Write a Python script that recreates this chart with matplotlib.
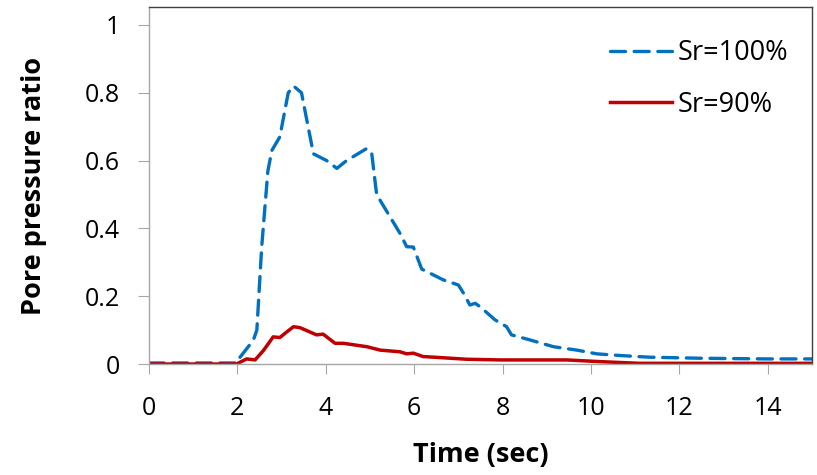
import matplotlib
matplotlib.use("Agg")
import matplotlib.pyplot as plt

# Sr=100% (blue dashed)
t_100 = [0.0, 1.0, 2.0, 2.06, 2.36, 2.44, 2.55, 2.69, 2.78, 2.96, 3.15, 3.27, 3.45,
         3.72, 4.02, 4.25, 4.47, 4.93, 5.04, 5.15, 5.38, 5.68, 5.83, 5.98, 6.17,
         6.66, 7.0, 7.11, 7.26, 7.38, 7.49, 7.83, 8.09, 8.2, 8.62, 9.15, 9.68,
         10.13, 10.66, 11.33, 12.47, 13.97, 15.0]
pp_100 = [0.003, 0.003, 0.003, 0.02, 0.07, 0.10, 0.346, 0.57, 0.63, 0.67, 0.80, 0.82, 0.80,
          0.62, 0.60, 0.577, 0.60, 0.636, 0.62, 0.50, 0.45, 0.385, 0.346, 0.345, 0.28,
          0.248, 0.233, 0.21, 0.174, 0.179, 0.169, 0.13, 0.11, 0.086, 0.071, 0.051, 0.041,
          0.03, 0.025, 0.02, 0.017, 0.015, 0.015]

# Sr=90% (red solid)
t_90 = [0.0, 1.98, 2.21, 2.4, 2.59, 2.81, 2.96, 3.12, 3.27, 3.42, 3.79, 3.94, 4.21,
        4.4, 4.93, 5.23, 5.68, 5.83, 5.98, 6.2, 6.58, 7.19, 7.94, 9.45, 10.2, 11.1,
        13.2, 15.0]
pp_90 = [0.0, 0.0, 0.015, 0.012, 0.04, 0.08, 0.078, 0.095, 0.11, 0.107, 0.086, 0.088, 0.061,
         0.061, 0.051, 0.041, 0.036, 0.03, 0.032, 0.022, 0.019, 0.014, 0.012, 0.012, 0.007, 0.002,
         0.002, 0.002]

x_ticks = [0, 2, 4, 6, 8, 10, 12, 14]
y_ticks = [0, 0.2, 0.4, 0.6, 0.8, 1]
y_labels = ["0", "0.2", "0.4", "0.6", "0.8", "1"]

plt.rcParams['font.family'] = ['Open Sans', 'DejaVu Sans']

fig = plt.figure(figsize=(8.17, 4.75), dpi=100)
ax = fig.add_axes([149/817, 111/475, 663/817, 357/475])

ax.plot(t_100, pp_100, color='#0070C0', lw=2.4, linestyle=(0, (4.5, 2.6)),
        dash_capstyle='round', label='Sr=100%')
ax.plot(t_90, pp_90, color='#C00000', lw=2.5, label='Sr=90%')

ax.set_xlim(0, 15)
ax.set_ylim(0, 357/339)
ax.set_xticks(x_ticks)
ax.set_yticks(y_ticks)
ax.set_yticklabels(y_labels)

grey = '#a6a6a6'
ax.spines['left'].set_color(grey)
ax.spines['bottom'].set_color(grey)
ax.spines['top'].set_color('#404040')
ax.spines['right'].set_color('#404040')
for s in ax.spines.values():
    s.set_linewidth(1.0)
ax.tick_params(axis='y', direction='out', length=8, color=grey, labelsize=18, pad=13)
ax.tick_params(axis='x', direction='out', length=7, color=grey, labelsize=18, pad=16)

ax.set_xlabel('Time (sec)', fontsize=19.5, fontweight='bold', labelpad=15)
ax.set_ylabel('Pore pressure ratio', fontsize=19.5, fontweight='bold', labelpad=27)

ax.legend(loc='upper left', bbox_to_anchor=(0.695, 0.91), frameon=False,
          fontsize=19.5, handlelength=2.3, handletextpad=0.22, labelspacing=0.87,
          borderaxespad=0, borderpad=0)

fig.savefig('out.png', dpi=100)
